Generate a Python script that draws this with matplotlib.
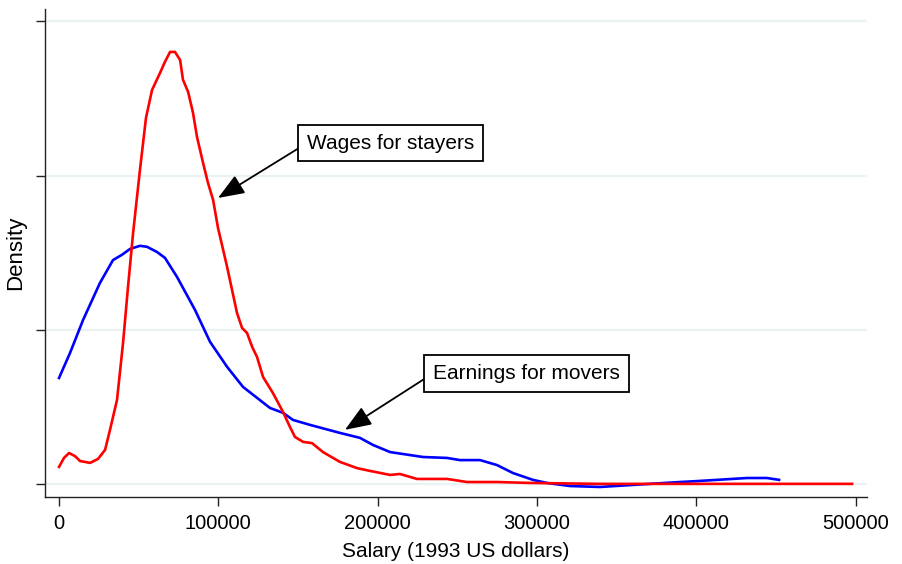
import numpy as np
import matplotlib.pyplot as plt

# Kernel density of salaries (density in units of 1e-6)
stayers_salary = [0, 3100, 6300, 10000, 13200, 19500, 24500, 28900, 32000, 36400,
                  40200, 43300, 46500, 50800, 54600, 58400, 63400, 66500, 69700, 72800,
                  76000, 77800, 81000, 84100, 86600, 90400, 93500, 96700, 99800, 105500,
                  111700, 114900, 118000, 121200, 124300, 128100, 134300, 140600, 145000, 148100,
                  153200, 158800, 165700, 176400, 187100, 195200, 207800, 214000, 224700, 243600,
                  256100, 275000, 295700, 339600, 402400, 497800]
stayers_density = [0.57, 0.86, 1.02, 0.92, 0.76, 0.70, 0.83, 1.12, 1.77, 2.74,
                   4.59, 6.40, 8.15, 10.19, 11.88, 12.78, 13.33, 13.69, 14.01, 14.01,
                   13.75, 13.11, 12.72, 12.04, 11.26, 10.42, 9.77, 9.22, 8.31, 7.05,
                   5.56, 5.07, 4.91, 4.46, 4.13, 3.48, 2.96, 2.35, 1.86, 1.54,
                   1.38, 1.34, 1.05, 0.73, 0.53, 0.44, 0.31, 0.34, 0.18, 0.18,
                   0.08, 0.08, 0.05, 0.02, 0.02, 0.02]

movers_salary = [0, 6900, 15100, 25700, 33900, 39500, 44600, 50800, 55200, 61500,
                 66500, 74100, 85400, 94800, 105500, 115500, 132400, 140600, 146900, 157600,
                 176400, 188900, 197100, 207800, 228500, 243600, 251700, 264300, 274900, 285000,
                 297500, 306300, 320800, 339600, 358400, 389800, 400500, 431900, 444400, 452000]
movers_density = [3.45, 4.26, 5.33, 6.53, 7.27, 7.44, 7.63, 7.73, 7.70, 7.53,
                  7.34, 6.72, 5.65, 4.62, 3.81, 3.16, 2.48, 2.32, 2.09, 1.93,
                  1.67, 1.51, 1.28, 1.05, 0.89, 0.86, 0.79, 0.79, 0.63, 0.37,
                  0.15, 0.05, -0.05, -0.08, -0.02, 0.08, 0.11, 0.21, 0.21, 0.15]

x_ticks = [0, 100000, 200000, 300000, 400000, 500000]
y_ticks = [0, 5e-6, 1e-5, 1.5e-5]

plt.rcParams['font.family'] = ['Liberation Sans', 'DejaVu Sans']

fig = plt.figure(figsize=(9.02, 5.64), dpi=100)
ax = fig.add_axes([0.0499, 0.1188, 0.9113, 0.8652])

ax.plot(movers_salary, np.array(movers_density) * 1e-6, color='#0000ff', lw=1.9,
        solid_joinstyle='round')
ax.plot(stayers_salary, np.array(stayers_density) * 1e-6, color='#ff0000', lw=1.9,
        solid_joinstyle='round')

ax.set_xlim(-8800, 507200)
ax.set_ylim(-0.405e-6, 15.4e-6)
ax.set_xticks(x_ticks)
ax.set_xticklabels([str(t) for t in x_ticks])
ax.set_yticks(y_ticks)
ax.set_yticklabels([])
ax.grid(axis='y', color='#eaf2f3', lw=1.6)
ax.set_axisbelow(True)

for side in ['top', 'right']:
    ax.spines[side].set_visible(False)
for side in ['left', 'bottom']:
    ax.spines[side].set_color('#222222')
    ax.spines[side].set_linewidth(1.0)
ax.tick_params(axis='both', length=6.5, width=1.0, color='#222222', labelsize=14.5, pad=6)

ax.set_xlabel('Salary (1993 US dollars)', fontsize=15, labelpad=6)
ax.set_ylabel('Density', fontsize=16, labelpad=1)

arrow = dict(arrowstyle='-|>,head_length=0.9,head_width=0.35', mutation_scale=18,
             color='black', lw=1.3, shrinkA=0, shrinkB=0, relpos=(0, 0.5))
box = dict(boxstyle='square,pad=0.42', fc='white', ec='black', lw=1.3)
ax.annotate('Wages for stayers', xy=(99800, 9.28e-6), xytext=(155700, 11.06e-6),
            ha='left', va='center', fontsize=15, bbox=box, arrowprops=arrow)
ax.annotate('Earnings for movers', xy=(179500, 1.77e-6), xytext=(234800, 3.60e-6),
            ha='left', va='center', fontsize=15, bbox=box, arrowprops=arrow)

fig.savefig('out.png', dpi=100)
